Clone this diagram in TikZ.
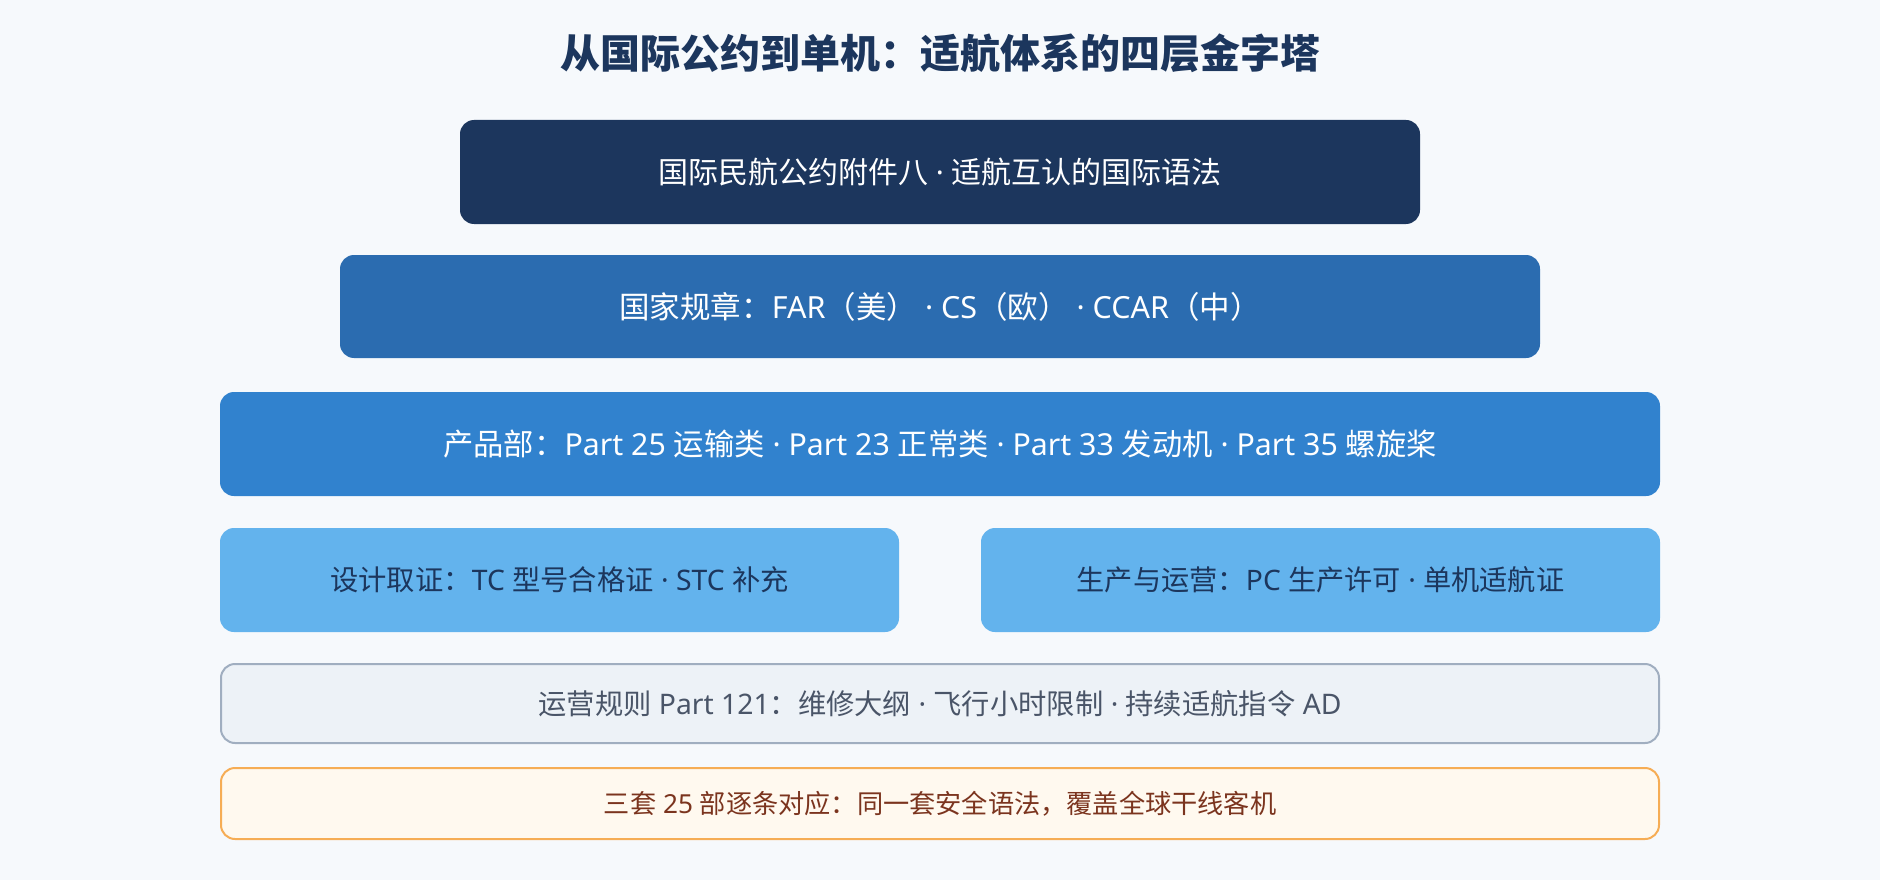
\documentclass[tikz,border=0pt]{standalone}
\usepackage{fontspec}
\setmainfont{Noto Sans CJK SC}
\newfontfamily\latfont{Noto Sans}
\newcommand\la[1]{{\latfont #1}}
\definecolor{bgc}{HTML}{F6F9FC}
\definecolor{navy}{HTML}{1C365D}
\definecolor{blueA}{HTML}{2B6CB0}
\definecolor{blueB}{HTML}{3182CE}
\definecolor{blueC}{HTML}{63B3ED}
\definecolor{grayF}{HTML}{EDF2F7}
\definecolor{grayD}{HTML}{A0AEC0}
\definecolor{grayT}{HTML}{4A5568}
\definecolor{orF}{HTML}{FFF9EF}
\definecolor{orD}{HTML}{F6AD55}
\definecolor{orT}{HTML}{7B341E}
\begin{document}
\begin{tikzpicture}[x=1pt,y=-1pt,
  layer/.style={rounded corners=14pt, inner sep=0pt, align=center},
  tier/.style={layer, draw=none, text=white},
  titletxt/.style={font=\fontsize{40}{48}\selectfont\bfseries, text=navy}]
\useasboundingbox[fill=bgc] (0,0) rectangle (1880,880);
\node[titletxt] (title) at (940,53) {从国际公约到单机：适航体系的四层金字塔};
\node[tier, fill=navy, minimum width=960pt, minimum height=104pt, font=\fontsize{30}{35}\selectfont] (l1) at (940,172) {国际民航公约附件八\la{ · }适航互认的国际语法};
\node[tier, fill=blueA, minimum width=1200pt, minimum height=103pt, font=\fontsize{30.5}{35}\selectfont] (l2) at (940,306.5) {国家规章：\la{FAR}（美）\la{ · CS}（欧）\la{ · CCAR}（中）};
\node[tier, fill=blueB, minimum width=1440pt, minimum height=104pt, font=\fontsize{30.3}{35}\selectfont] (l3) at (940,444) {产品部：\la{Part 25 }运输类\la{ · Part 23 }正常类\la{ · Part 33 }发动机\la{ · Part 35 }螺旋桨};
\node[tier, fill=blueC, text=navy, minimum width=679pt, minimum height=104pt, font=\fontsize{28.3}{33}\selectfont] (l4a) at (559.5,580) {设计取证：\la{TC }型号合格证\la{ · STC }补充};
\node[tier, fill=blueC, text=navy, minimum width=679pt, minimum height=104pt, font=\fontsize{28.2}{33}\selectfont] (l4b) at (1320.5,580) {生产与运营：\la{PC }生产许可\la{ · }单机适航证};
\node[layer, fill=grayF, draw=grayD, line width=2pt, text=grayT, minimum width=1438pt, minimum height=79pt, font=\fontsize{28.3}{33}\selectfont] (l5) at (940,703.5) {运营规则\la{ Part 121}：维修大纲\la{ · }飞行小时限制\la{ · }持续适航指令\la{ AD}};
\node[layer, fill=orF, draw=orD, line width=2pt, text=orT, minimum width=1438pt, minimum height=71pt, font=\fontsize{26.2}{30}\selectfont] (l6) at (940,803.5) {三套\la{ 25 }部逐条对应：同一套安全语法，覆盖全球干线客机};
\end{tikzpicture}
\end{document}
